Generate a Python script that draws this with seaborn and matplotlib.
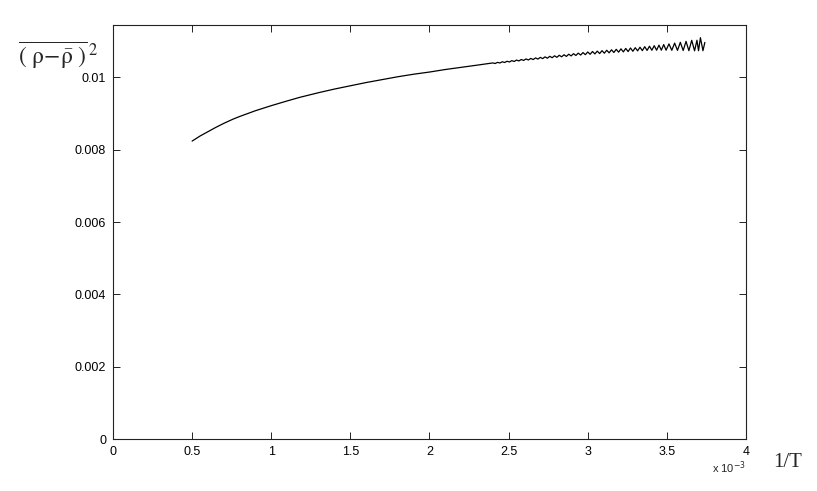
import matplotlib
matplotlib.use("Agg")
import matplotlib.pyplot as plt
import seaborn as sns
import numpy as np
import pandas as pd

# values, x in units of 1e-3, y in units of 1e-3

x_smooth = [0.5, 0.55, 0.6, 0.65, 0.7, 0.76, 0.8, 0.9, 1.0, 1.1, 1.18, 1.3, 1.4,
            1.5, 1.6, 1.7, 1.8, 1.9, 2.0, 2.1, 2.2, 2.3]
y_smooth = [8.24, 8.38, 8.50, 8.62, 8.73, 8.85, 8.92, 9.08, 9.22, 9.35, 9.45, 9.58, 9.68,
            9.77, 9.86, 9.94, 10.02, 10.09, 10.15, 10.22, 10.28, 10.34]

# turning points of the wiggly part
x_wiggle = [2.400, 2.415, 2.430, 2.445, 2.460, 2.475, 2.490, 2.505, 2.520, 2.535,
            2.550, 2.565, 2.580, 2.595, 2.610, 2.625, 2.640, 2.655, 2.670, 2.685,
            2.700, 2.715, 2.730, 2.745, 2.760, 2.775, 2.790, 2.805, 2.820, 2.835,
            2.850, 2.865, 2.880, 2.895, 2.910, 2.925, 2.940, 2.955, 2.970, 2.985,
            3.000, 3.015, 3.030, 3.045, 3.060, 3.075, 3.090, 3.105, 3.120, 3.135,
            3.150, 3.165, 3.180, 3.195, 3.210, 3.225, 3.240, 3.255, 3.270, 3.285,
            3.300, 3.315, 3.330, 3.345, 3.360, 3.375, 3.390, 3.405, 3.420, 3.435,
            3.450, 3.465, 3.480, 3.495, 3.513, 3.531, 3.549, 3.567, 3.585, 3.603,
            3.621, 3.639, 3.657, 3.675, 3.690, 3.700, 3.712, 3.728, 3.740]
y_wiggle = [10.402, 10.386, 10.418, 10.400, 10.434, 10.414, 10.449, 10.428, 10.465, 10.443,
            10.481, 10.457, 10.497, 10.471, 10.513, 10.483, 10.527, 10.495, 10.541, 10.508,
            10.556, 10.521, 10.570, 10.533, 10.585, 10.546, 10.599, 10.557, 10.614, 10.571,
            10.628, 10.583, 10.643, 10.596, 10.658, 10.608, 10.673, 10.620, 10.688, 10.631,
            10.705, 10.641, 10.718, 10.651, 10.729, 10.661, 10.741, 10.671, 10.753, 10.681,
            10.765, 10.691, 10.778, 10.700, 10.792, 10.707, 10.803, 10.716, 10.815, 10.725,
            10.823, 10.736, 10.837, 10.742, 10.851, 10.748, 10.865, 10.752, 10.879, 10.754,
            10.894, 10.754, 10.910, 10.754, 10.929, 10.752, 10.950, 10.749, 10.972, 10.745,
            10.999, 10.741, 11.027, 10.737, 11.030, 10.740, 11.100, 10.740, 10.970]

x_ticks = [0, 0.5, 1, 1.5, 2, 2.5, 3, 3.5, 4]
x_ticklabels = ["0", "0.5", "1", "1.5", "2", "2.5", "3", "3.5", "4"]
y_ticks = [0, 0.002, 0.004, 0.006, 0.008, 0.01]
y_ticklabels = ["0", "0.002", "0.004", "0.006", "0.008", "0.01"]

data = pd.DataFrame({
    "inv_T": x_smooth + x_wiggle,
    "fluct": [v * 1e-3 for v in y_smooth + y_wiggle],
})

sns.set_style("white")
plt.rcParams["font.family"] = ["Liberation Sans", "DejaVu Sans"]
plt.rcParams["mathtext.fontset"] = "stix"

fig = plt.figure(figsize=(8.17, 4.91), dpi=100)
ax = fig.add_axes([0.1383, 0.1059, 0.7748, 0.8431])

sns.lineplot(data=data, x="inv_T", y="fluct", sort=False, estimator=None,
             color="black", linewidth=0.9, ax=ax)

ax.set_xlim(0, 4)
ax.set_ylim(0, 0.01145)
ax.set_xticks(x_ticks)
ax.set_xticklabels(x_ticklabels)
ax.set_yticks(y_ticks)
ax.set_yticklabels(y_ticklabels)
ax.tick_params(direction="in", length=5, width=0.7, labelsize=9, colors="#222222",
               labelcolor="black", top=True, right=True, bottom=True, left=True, pad=5)
for s in ax.spines.values():
    s.set_color("#222222")
    s.set_linewidth(0.8)
ax.set_xlabel("")
ax.set_ylabel("")

# exponent note and axis titles placed like the original
ax.text(0.946, -0.07, r"x 10$^{-3}$", transform=ax.transAxes, fontsize=8,
        math_fontfamily="dejavusans", ha="left", va="center")
ax.text(1.043, -0.056, "1/T", transform=ax.transAxes, fontsize=15,
        family="Liberation Serif", ha="left", va="center")
fig.text(0.022, 0.888, r"$\overline{(\ \mathrm{\rho}\!-\!\bar{\mathrm{\rho}}\ )}^{\,2}$",
         fontsize=17, ha="left", va="center")

fig.savefig("out.png", dpi=100)
